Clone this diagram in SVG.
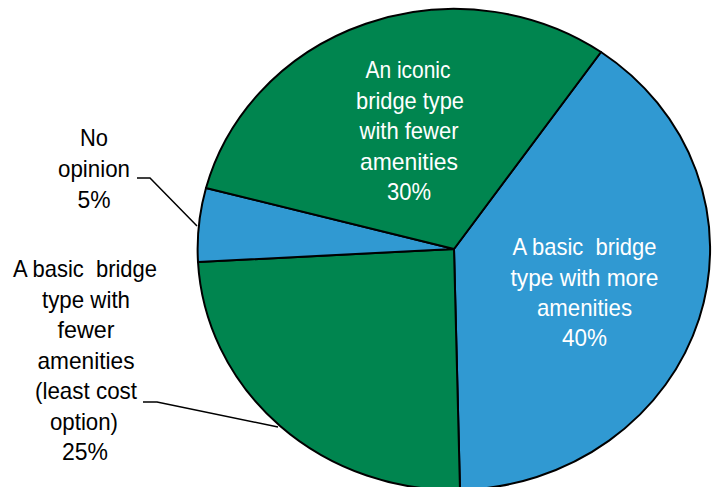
<svg xmlns="http://www.w3.org/2000/svg" width="713" height="487" viewBox="0 0 713 487">
<style>
.slice{stroke:#000;stroke-width:2;stroke-linejoin:round}
.g{fill:#00854F}
.b{fill:#3099D2}
text{font-family:"Liberation Sans",Arial,sans-serif;font-size:24px;text-anchor:middle}
.w{fill:#fff}
.k{fill:#000}
.lead{fill:none;stroke:#000;stroke-width:1.5}
</style>
<rect width="713" height="487" fill="#fff"/>
<g id="slice-basic-more">
<path class="slice b" d="M454,249 L601,52 A257,241 0 0 1 460,490 Z"/>
<text class="w" x="584.5" y="255" textLength="144" lengthAdjust="spacingAndGlyphs">A basic&#160; bridge</text>
<text class="w" x="584.5" y="285.5" textLength="148" lengthAdjust="spacingAndGlyphs">type with more</text>
<text class="w" x="584.5" y="316" textLength="95" lengthAdjust="spacingAndGlyphs">amenities</text>
<text class="w" x="584.5" y="346" textLength="45" lengthAdjust="spacingAndGlyphs">40%</text>
</g>
<g id="slice-basic-fewer">
<path class="slice g" d="M454,249 L460,490 A257,241 0 0 1 198,262 Z"/>
</g>
<g id="slice-no-opinion">
<path class="slice b" d="M454,249 L198,262 A257,241 0 0 1 206,188 Z"/>
</g>
<g id="slice-iconic">
<path class="slice g" d="M454,249 L206,188 A257,241 0 0 1 601,52 Z"/>
<text class="w" x="408" y="78" textLength="85" lengthAdjust="spacingAndGlyphs">An iconic</text>
<text class="w" x="410" y="108.5" textLength="108" lengthAdjust="spacingAndGlyphs">bridge type</text>
<text class="w" x="409" y="139" textLength="99" lengthAdjust="spacingAndGlyphs">with fewer</text>
<text class="w" x="409" y="169.5" textLength="98" lengthAdjust="spacingAndGlyphs">amenities</text>
<text class="w" x="409" y="200" textLength="44" lengthAdjust="spacingAndGlyphs">30%</text>
</g>
<g id="connectors">
<polyline class="lead" points="137,178 150,178 197,226"/>
<polyline class="lead" points="143,402 157,402 278,427"/>
</g>
<g id="label-no-opinion">
<text class="k" x="94" y="146" textLength="28" lengthAdjust="spacingAndGlyphs">No</text>
<text class="k" x="94" y="177" textLength="72" lengthAdjust="spacingAndGlyphs">opinion</text>
<text class="k" x="94" y="208" textLength="33" lengthAdjust="spacingAndGlyphs">5%</text>
</g>
<g id="label-basic-fewer">
<text class="k" x="85" y="277" textLength="144" lengthAdjust="spacingAndGlyphs">A basic&#160; bridge</text>
<text class="k" x="86" y="307.5" textLength="88" lengthAdjust="spacingAndGlyphs">type with</text>
<text class="k" x="86" y="338" textLength="57" lengthAdjust="spacingAndGlyphs">fewer</text>
<text class="k" x="86" y="368.5" textLength="97" lengthAdjust="spacingAndGlyphs">amenities</text>
<text class="k" x="86" y="399" textLength="102" lengthAdjust="spacingAndGlyphs">(least cost</text>
<text class="k" x="84" y="429.5" textLength="68" lengthAdjust="spacingAndGlyphs">option)</text>
<text class="k" x="85" y="460" textLength="46" lengthAdjust="spacingAndGlyphs">25%</text>
</g>
</svg>
